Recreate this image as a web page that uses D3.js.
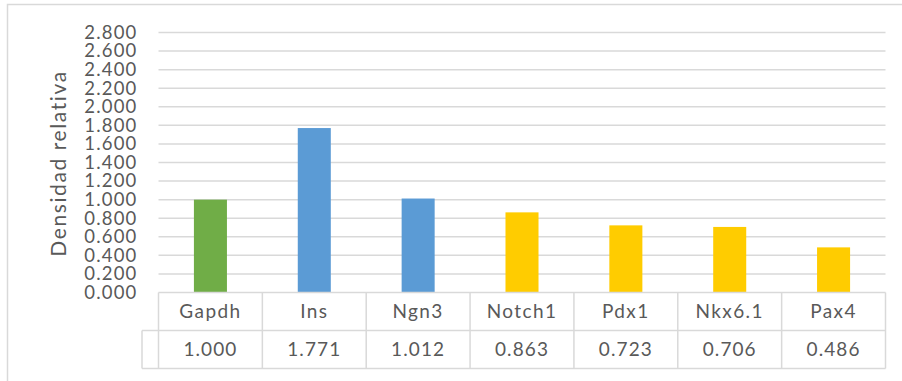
<!DOCTYPE html>
<html>
<head>
<meta charset="utf-8">
<script src="https://cdn.jsdelivr.net/npm/d3@7"></script>
<style>
  html, body { margin: 0; padding: 0; background: #fff; }
  svg text { font-family: Lato, "Open Sans", sans-serif; fill: #595959; }
</style>
</head>
<body>
<svg id="chart" width="902" height="381"></svg>
<script>
// Relative density per gene
const genes = ["Gapdh", "Ins", "Ngn3", "Notch1", "Pdx1", "Nkx6.1", "Pax4"];
const density = [1.000, 1.771, 1.012, 0.863, 0.723, 0.706, 0.486];
const geneGroup = ["ref", "endo", "endo", "prog", "prog", "prog", "prog"];
const yTicks = [0, 0.2, 0.4, 0.6, 0.8, 1.0, 1.2, 1.4, 1.6, 1.8, 2.0, 2.2, 2.4, 2.6, 2.8];
const yTitle = "Densidad relativa";

const groupColor = { ref: "#70AD47", endo: "#5B9BD5", prog: "#FFCC00" };
const lineColor = "#d9d9d9";

const svg = d3.select("#chart");
const W = 902, H = 381;
const plot = { left: 158.5, right: 885.5, top: 32.5, bottom: 292.5 };
const rowH = 38;
const headerLeft = 142;

// outer chart frame
svg.append("rect")
  .attr("x", 7.5).attr("y", 4.5)
  .attr("width", W + 20).attr("height", H + 20)
  .attr("fill", "none").attr("stroke", lineColor).attr("stroke-width", 1.5);

const x = d3.scaleBand().domain(genes).range([plot.left, plot.right]).padding(0);
const y = d3.scaleLinear().domain([0, 2.8]).range([plot.bottom, plot.top]);

// horizontal gridlines
svg.append("g")
  .selectAll("line")
  .data(yTicks.filter(d => d > 0))
  .join("line")
  .attr("x1", plot.left).attr("x2", plot.right)
  .attr("y1", d => y(d)).attr("y2", d => y(d))
  .attr("stroke", lineColor).attr("stroke-width", 1.5);

// y axis labels
const yAxis = d3.axisLeft(y).tickValues(yTicks).tickFormat(d3.format(".3f")).tickSize(0).tickPadding(21);
const yg = svg.append("g").attr("transform", `translate(${plot.left},0)`).call(yAxis);
yg.select(".domain").remove();
yg.selectAll("text")
  .style("font-size", "18.5px")
  .style("letter-spacing", "1.2px")
  .style("font-family", "Lato, sans-serif")
  .attr("fill", "#595959");

// axis title
svg.append("text")
  .attr("transform", `translate(66,${(plot.top + plot.bottom) / 2 + 1}) rotate(-90)`)
  .attr("text-anchor", "middle")
  .style("font-size", "21px")
  .style("letter-spacing", "1.6px")
  .text(yTitle);

// bars
const barW = x.bandwidth() * 0.318;
svg.append("g")
  .selectAll("rect")
  .data(genes.map((g, i) => ({ g, v: density[i], c: geneGroup[i] })))
  .join("rect")
  .attr("x", d => x(d.g) + x.bandwidth() / 2 - barW / 2)
  .attr("width", barW)
  .attr("y", d => y(d.v))
  .attr("height", d => y(0) - y(d.v))
  .attr("fill", d => groupColor[d.c]);

// data table below the axis
const tbl = svg.append("g");
const row1 = plot.bottom, row2 = plot.bottom + rowH, row3 = plot.bottom + 2 * rowH;
[[plot.left, row1], [headerLeft, row2], [headerLeft, row3]].forEach(([x0, yy]) => {
  tbl.append("line").attr("x1", x0).attr("x2", plot.right).attr("y1", yy).attr("y2", yy)
    .attr("stroke", lineColor).attr("stroke-width", 1.5);
});
const bounds = genes.map(g => x(g)).concat([plot.right]);
tbl.selectAll("line.v")
  .data(bounds)
  .join("line")
  .attr("class", "v")
  .attr("x1", d => d).attr("x2", d => d)
  .attr("y1", row1).attr("y2", row3)
  .attr("stroke", lineColor).attr("stroke-width", 1.5);
tbl.append("line").attr("x1", headerLeft).attr("x2", headerLeft).attr("y1", row2).attr("y2", row3)
  .attr("stroke", lineColor).attr("stroke-width", 1.5);

tbl.selectAll("text.cat")
  .data(genes)
  .join("text")
  .attr("class", "cat")
  .attr("x", d => x(d) + x.bandwidth() / 2)
  .attr("y", row1 + rowH / 2)
  .attr("dy", "0.35em")
  .attr("text-anchor", "middle")
  .style("font-size", "19px")
  .style("letter-spacing", "1.4px")
  .text(d => d);

tbl.selectAll("text.val")
  .data(density)
  .join("text")
  .attr("class", "val")
  .attr("x", (d, i) => x(genes[i]) + x.bandwidth() / 2)
  .attr("y", row2 + rowH / 2)
  .attr("dy", "0.35em")
  .attr("text-anchor", "middle")
  .style("font-size", "19px")
  .style("letter-spacing", "1.1px")
  .text(d => d3.format(".3f")(d));
</script>
</body>
</html>
